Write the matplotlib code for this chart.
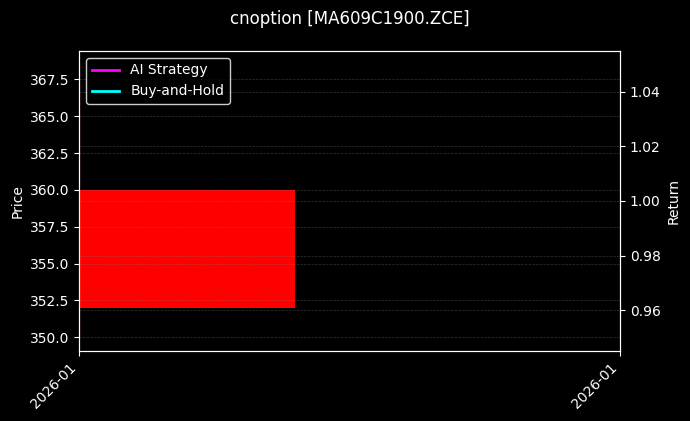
import matplotlib
matplotlib.use("Agg")
import matplotlib.pyplot as plt
import matplotlib.dates as mdates
import numpy as np
import pandas as pd

# one daily bar of the option contract
dates = pd.to_datetime(["2026-01-05"])
open_ = [360.0]
high = [368.5]
low = [350.0]
close = [352.0]

# normalised returns (only one observation so far)
ai_ret = [1.0]
bh_ret = [1.0]

title = "cnoption [MA609C1900.ZCE]"

plt.style.use("dark_background")
fig, ax = plt.subplots(figsize=(6.9, 4.21), dpi=100)
fig.subplots_adjust(left=0.1145, right=0.8986, top=0.8789, bottom=0.1663)

x = mdates.date2num(dates)
body_w = 0.6
for xi, o, h, l, c in zip(x, open_, high, low, close):
    col = "red" if c < o else "lime"
    ax.vlines(xi, l, h, color=col, linewidth=0.8)
    ax.bar(xi, c - o, bottom=o, width=body_w, align="edge", color=col)

ax.set_xlim(x[0], x[-1] + 1.5)
ax.set_xticks([x[0], x[-1] + 1.5])
ax.xaxis.set_major_formatter(mdates.DateFormatter("%Y-%m"))
plt.setp(ax.get_xticklabels(), rotation=45, ha="right")
ax.set_ylabel("Price")
ax.grid(True, color="gray", linestyle="--", linewidth=0.5, alpha=0.4)

ax2 = ax.twinx()
ax2.plot(dates, ai_ret, color="magenta", linewidth=2, label="AI Strategy")
ax2.plot(dates, bh_ret, color="cyan", linewidth=2, label="Buy-and-Hold")
ax2.set_xlim(x[0], x[-1] + 1.5)
ax2.set_ylabel("Return")
ax2.grid(True, color="gray", linestyle="--", linewidth=0.5, alpha=0.4)
ax2.legend(loc="upper left", facecolor="black", edgecolor="white")

fig.text(0.5065, 0.955, title, ha="center", va="center", fontsize=12)

fig.savefig("out.png", dpi=100)
